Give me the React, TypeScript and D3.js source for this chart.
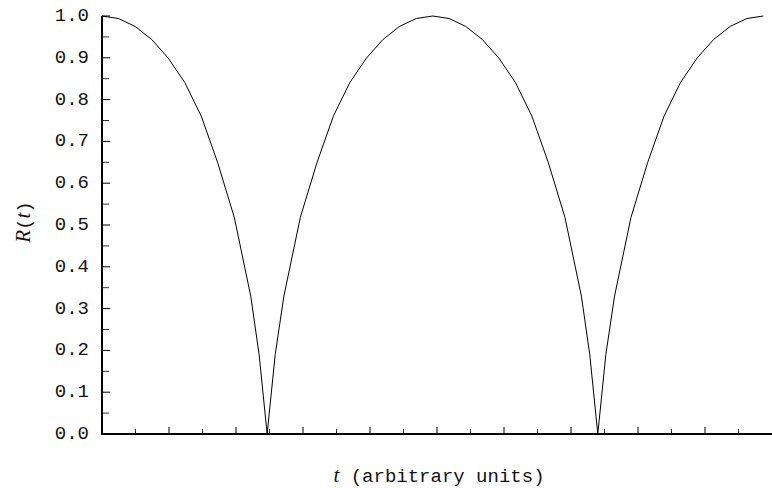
import React, { useEffect, useRef } from "react";
import * as d3 from "d3";

// curve samples (t in axis units, R(t))
const tValues = [
  0, 0.49, 0.99, 1.48, 1.97, 2.47, 2.96, 3.45, 3.95, 4.44, 4.69, 4.93,
  5.17, 5.43, 5.92, 6.42, 6.91, 7.4, 7.9, 8.39, 8.88, 9.38, 9.87,
  10.36, 10.86, 11.35, 11.84, 12.34, 12.83, 13.32, 13.82, 14.31, 14.56, 14.8,
  15.04, 15.3, 15.79, 16.29, 16.78, 17.27, 17.77, 18.26, 18.75, 19.25, 19.74,
];
const rValues = [
  1.0, 0.994, 0.975, 0.944, 0.9, 0.841, 0.761, 0.65, 0.518, 0.33, 0.19, 0.0,
  0.19, 0.33, 0.518, 0.65, 0.761, 0.841, 0.9, 0.944, 0.975, 0.994, 1.0,
  0.994, 0.975, 0.944, 0.9, 0.841, 0.761, 0.65, 0.518, 0.33, 0.19, 0.0,
  0.19, 0.33, 0.518, 0.65, 0.761, 0.841, 0.9, 0.944, 0.975, 0.994, 1.0,
];
const yTickLabels = ["0.0", "0.1", "0.2", "0.3", "0.4", "0.5", "0.6", "0.7", "0.8", "0.9", "1.0"];
const xMajorTicks = [2, 4, 6, 8, 10, 12, 14, 16, 18];
const xMinorTicks = [1, 3, 5, 7, 9, 11, 13, 15, 17, 19];

const App = () => {
  const svgRef = useRef<SVGSVGElement>(null);

  useEffect(() => {
    const svg = d3.select(svgRef.current);
    svg.selectAll("*").remove();

    const width = 772;
    const height = 488;
    const font = "'Liberation Mono', 'DejaVu Sans Mono', monospace";
    const mathFont = "'Liberation Serif', serif";

    const x = d3.scaleLinear().domain([0, 20]).range([102, 772]);
    const y = d3.scaleLinear().domain([0, 1]).range([434, 16]);

    svg.attr("width", width).attr("height", height);

    // y ticks (inward)
    const yMajor = yTickLabels.map(Number);
    const yMinor = d3.range(10).map(i => +(i * 0.1 + 0.05).toFixed(2));

    svg.selectAll("line.ymaj")
      .data(yMajor)
      .enter()
      .append("line")
      .attr("x1", x(0))
      .attr("x2", x(0) + 8)
      .attr("y1", d => y(d))
      .attr("y2", d => y(d))
      .attr("stroke", "#000")
      .attr("stroke-width", 1);

    svg.selectAll("line.ymin")
      .data(yMinor)
      .enter()
      .append("line")
      .attr("x1", x(0))
      .attr("x2", x(0) + 7)
      .attr("y1", d => y(d))
      .attr("y2", d => y(d))
      .attr("stroke", "#333")
      .attr("stroke-width", 1);

    svg.selectAll("text.ylab")
      .data(yTickLabels)
      .enter()
      .append("text")
      .attr("x", 89)
      .attr("y", d => y(+d))
      .attr("text-anchor", "end")
      .attr("dominant-baseline", "central")
      .style("font-family", font)
      .style("font-size", "19px")
      .attr("fill", "#111")
      .text(d => d);

    // x ticks (inward)
    svg.selectAll("line.xmaj")
      .data(xMajorTicks)
      .enter()
      .append("line")
      .attr("x1", d => x(d))
      .attr("x2", d => x(d))
      .attr("y1", y(0))
      .attr("y2", y(0) - 7)
      .attr("stroke", "#000");

    svg.selectAll("line.xmin")
      .data(xMinorTicks)
      .enter()
      .append("line")
      .attr("x1", d => x(d))
      .attr("x2", d => x(d))
      .attr("y1", y(0))
      .attr("y2", y(0) - 5)
      .attr("stroke", "#333");

    // curve
    const pts = tValues.map((t, i) => [t, rValues[i]] as [number, number]);
    svg.append("path")
      .datum(pts)
      .attr("fill", "none")
      .attr("stroke", "#000")
      .attr("stroke-width", 1)
      .attr("d", d3.line<[number, number]>().x(d => x(d[0])).y(d => y(d[1])));

    // axis lines
    svg.append("line")
      .attr("x1", x(0)).attr("x2", x(0))
      .attr("y1", y(1)).attr("y2", y(0) + 1)
      .attr("stroke", "#000").attr("stroke-width", 2);
    svg.append("line")
      .attr("x1", x(0) - 1).attr("x2", x(20))
      .attr("y1", y(0)).attr("y2", y(0))
      .attr("stroke", "#000").attr("stroke-width", 2);

    // axis titles
    const xt = svg.append("text")
      .attr("x", 439)
      .attr("y", 482)
      .attr("text-anchor", "middle")
      .style("font-family", font)
      .style("font-size", "19px")
      .attr("fill", "#111");
    xt.append("tspan").style("font-style", "italic").style("font-family", mathFont).style("font-size", "21px").text("t");
    xt.append("tspan").text(" (arbitrary units)");

    const yt = svg.append("text")
      .attr("transform", "translate(30,222) rotate(-90)")
      .attr("text-anchor", "middle")
      .style("font-family", font)
      .style("font-size", "19px")
      .attr("fill", "#111");
    yt.append("tspan").style("font-style", "italic").style("font-family", mathFont).style("font-size", "21px").text("R");
    yt.append("tspan").text("(");
    yt.append("tspan").style("font-style", "italic").style("font-family", mathFont).style("font-size", "21px").text("t");
    yt.append("tspan").text(")");
  }, []);

  return <svg ref={svgRef} style={{ position: "absolute", left: 0, top: 0 }} />;
};

export default App;
